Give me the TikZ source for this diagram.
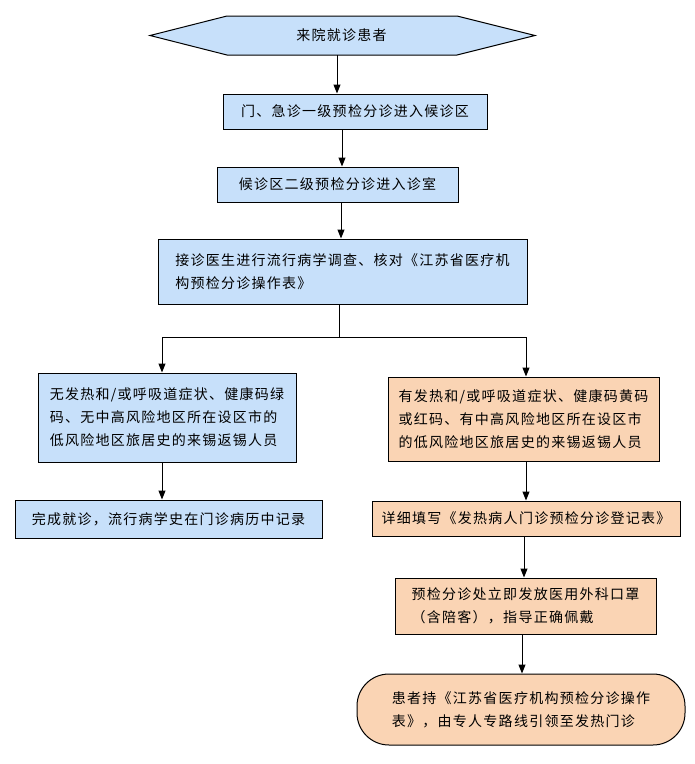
\documentclass[tikz,border=0pt]{standalone}
\usepackage{fontspec}
\newfontfamily\cjk[LetterSpace=9]{Noto Sans CJK SC}
\usetikzlibrary{arrows.meta}
\definecolor{boxblue}{RGB}{199,224,250}
\definecolor{boxpeach}{RGB}{250,212,180}
\tikzset{
  box/.style={draw, line width=1pt, inner sep=2pt, align=left},
  bluebox/.style={box, fill=boxblue},
  peachbox/.style={box, fill=boxpeach},
  arr/.style={-{Triangle[length=9pt,width=7pt]}, line width=1pt},
}

\begin{document}
\begin{tikzpicture}[x=1pt, y=-1pt, every node/.style={font=\cjk\fontsize{14}{23}\selectfont}]
    \useasboundingbox (0,0) rectangle (695,764);

    % entry hexagon
    \draw[line width=1pt, fill=boxblue] (227,16) -- (457,16) -- (535,35.5) -- (457,55) -- (227,55) -- (150,35.5) -- cycle;
    \node[minimum height=39pt, inner sep=0pt] (start) at (341.5,35.5) {来院就诊患者};

    \node[bluebox, minimum width=264pt, minimum height=35pt] (triage1) at (355,111.5) {门、急诊一级预检分诊进入候诊区};
    \node[bluebox, minimum width=241pt, minimum height=35pt] (triage2) at (337.5,184.5) {候诊区二级预检分诊进入诊室};
    \node[bluebox, minimum width=369pt, minimum height=65pt] (check) at (342.5,271.5) {接诊医生进行流行病学调查、核对《江苏省医疗机\\构预检分诊操作表》};

    % two branches
    \node[bluebox, minimum width=258pt, minimum height=89pt] (lowrisk) at (167,417.5) {无发热和/或呼吸道症状、健康码绿\\码、无中高风险地区所在设区市的\\低风险地区旅居史的来锡返锡人员};
    \node[peachbox, minimum width=271pt, minimum height=84pt] (highrisk) at (523.5,419) {有发热和/或呼吸道症状、健康码黄码\\或红码、有中高风险地区所在设区市\\的低风险地区旅居史的来锡返锡人员};
    \node[bluebox, minimum width=307pt, minimum height=38pt] (done) at (168.5,519) {完成就诊，流行病学史在门诊病历中记录};
    \node[peachbox, minimum width=308pt, minimum height=35pt] (register) at (526,518.5) {详细填写《发热病人门诊预检分诊登记表》};
    \node[peachbox, minimum width=261pt, minimum height=56pt] (mask) at (525.5,606) {预检分诊处立即发放医用外科口罩\\（含陪客），指导正确佩戴};
    \node[peachbox, rounded corners=32pt, minimum width=328pt, minimum height=71pt] (guide) at (521,709.5) {患者持《江苏省医疗机构预检分诊操作\\表》，由专人专路线引领至发热门诊};

    % connectors
    \draw[arr] ([xshift=-4.5pt]start.south) -- ([xshift=-4.5pt]start.south |- triage1.north);
    \draw[arr] ([xshift=-13pt]triage1.south) -- ([xshift=-13pt]triage1.south |- triage2.north);
    \draw[arr] ([xshift=3.5pt]triage2.south) -- ([xshift=3.5pt]triage2.south |- check.north);
    \draw[line width=1pt] ([xshift=-3.5pt]check.south) -- ++(0,33) coordinate (split);
    \draw[arr] (split) -| ([xshift=-5pt]lowrisk.north);
    \draw[arr] (split) -| ([xshift=2.5pt]highrisk.north);
    \draw[arr] ([xshift=-5pt]lowrisk.south) -- ([xshift=-5pt]lowrisk.south |- done.north);
    \draw[arr] ([xshift=2.5pt]highrisk.south) -- ([xshift=2.5pt]highrisk.south |- register.north);
    \draw[arr] ([xshift=-2pt]register.south) -- ([xshift=-2pt]register.south |- mask.north);
    \draw[arr] ([xshift=-3.5pt]mask.south) -- ([xshift=-3.5pt]mask.south |- guide.north);
\end{tikzpicture}
\end{document}
